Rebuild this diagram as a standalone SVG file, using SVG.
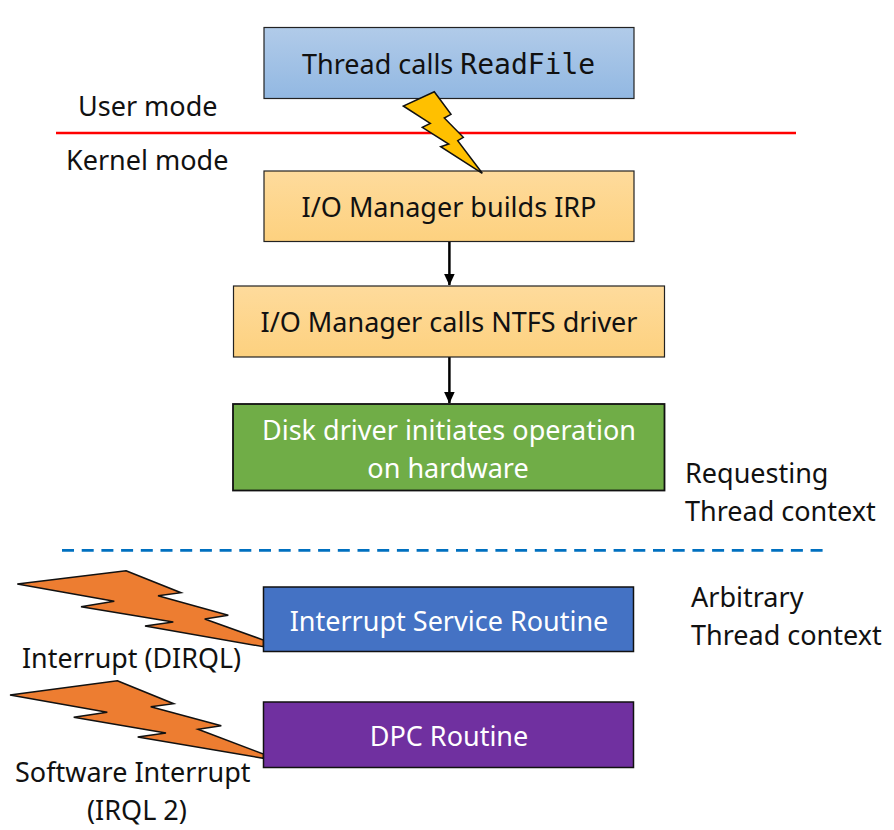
<svg xmlns="http://www.w3.org/2000/svg" width="894" height="830" viewBox="0 0 894 830">
<style>
text{font-family:"Noto Sans","Open Sans",sans-serif;font-size:27px;fill:#111}
.c{text-anchor:middle}
.w{fill:#fff}
.box{stroke:#222;stroke-width:1.2}
.solid{stroke:#000;stroke-width:2.500}
.bolt{stroke:#111;stroke-width:1.5;stroke-linejoin:miter}
.mono{font-family:"DejaVu Sans Mono","Liberation Mono",monospace;font-size:28px}
</style>
<defs>
<linearGradient id="blue" x1="0" y1="0" x2="0" y2="1"><stop offset="0" stop-color="#b1cbe9"/><stop offset="1" stop-color="#92b8e2"/></linearGradient>
<linearGradient id="peach" x1="0" y1="0" x2="0" y2="1"><stop offset="0" stop-color="#fedb9c"/><stop offset="1" stop-color="#fdd17f"/></linearGradient>
<marker id="arrow" markerWidth="12" markerHeight="12" refX="11.500" refY="6" orient="auto" markerUnits="userSpaceOnUse"><path d="M0,0.500L12,6L0,11.500Z" fill="#000"/></marker>
</defs>
<g id="connectors">
<line x1="56" y1="133" x2="796" y2="133" stroke="#f00" stroke-width="2.500"/>
<line x1="62" y1="550.300" x2="823" y2="550.300" stroke="#0070c0" stroke-width="2.800" stroke-dasharray="12 7.700"/>
<line class="solid" x1="449.400" y1="242" x2="449.400" y2="285" marker-end="url(#arrow)"/>
<line class="solid" x1="449.400" y1="357" x2="449.400" y2="403" marker-end="url(#arrow)"/>
</g>
<g id="node-readfile"><rect class="box" x="264" y="27.500" width="370" height="71" fill="url(#blue)"/>
<text x="302" y="74">Thread calls <tspan class="mono">ReadFile</tspan></text></g>
<g id="node-irp"><rect class="box" x="264" y="171" width="370" height="70.500" fill="url(#peach)"/>
<text class="c" x="449" y="217">I/O Manager builds IRP</text></g>
<g id="node-ntfs"><rect class="box" x="233.500" y="286" width="431" height="71" fill="url(#peach)"/>
<text class="c" x="449" y="332">I/O Manager calls NTFS driver</text></g>
<g id="node-disk"><rect x="233" y="404" width="431.500" height="86.500" fill="#70ad47" stroke="#111" stroke-width="1.800"/>
<text class="c w" x="449" y="440">Disk driver initiates operation</text>
<text class="c w" x="448" y="478">on hardware</text></g>
<g id="node-isr"><rect x="263.500" y="587" width="370" height="64.500" fill="#4472c4" stroke="#111" stroke-width="1.500"/>
<text class="c w" x="449" y="631">Interrupt Service Routine</text></g>
<g id="node-dpc"><rect x="263.500" y="702" width="370" height="65.500" fill="#7030a0" stroke="#111" stroke-width="1.500"/>
<text class="c w" x="449" y="746">DPC Routine</text></g>
<g id="bolt-user"><polygon class="bolt" fill="#ffc000" points="434.300,91.700 451,114.300 444.300,118 463.300,137.300 457.700,140.700 482.300,173.300 440.700,146.700 448.700,144 422.300,127.300 430.300,123.300 403.300,106"/></g>
<g id="bolt-interrupt"><polygon class="bolt" fill="#ed7d31" points="126,570.700 181,592.700 158,595.700 228.300,615.300 204.700,619 263.300,640 263.300,646.700 145,626 173.300,622 81,606.700 114.300,601.300 17.300,584"/></g>
<g id="bolt-software"><polygon class="bolt" fill="#ed7d31" points="117.300,680.700 173.700,703.700 150.700,706.700 221.300,725.700 198,729.300 263.300,754 263.300,758.300 137.700,737 166,733 73.700,717.300 107.300,712.300 10,695"/></g>
<g id="labels">
<text x="78" y="116">User mode</text>
<text x="66" y="170">Kernel mode</text>
<text x="685" y="483">Requesting</text>
<text x="685" y="521">Thread context</text>
<text x="691" y="607">Arbitrary</text>
<text x="691" y="645">Thread context</text>
<text x="22" y="668" textLength="219" lengthAdjust="spacingAndGlyphs">Interrupt (DIRQL)</text>
<text x="15" y="782">Software Interrupt</text>
<text x="87" y="820">(IRQL 2)</text>
</g>
</svg>
